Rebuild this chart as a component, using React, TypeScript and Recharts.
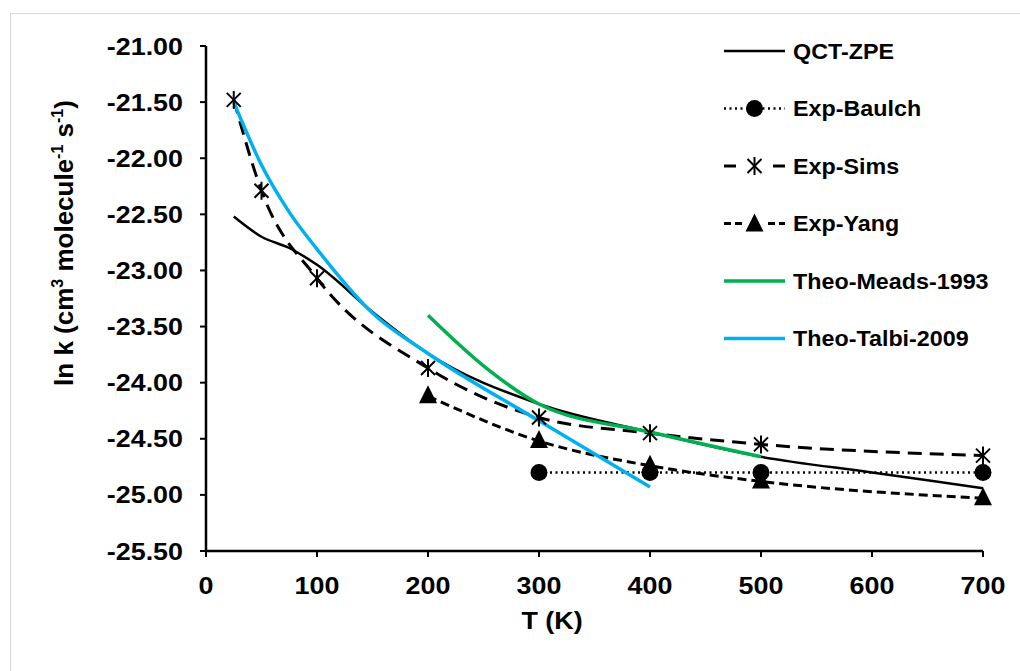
import React from "react";
import { Label, Line, LineChart, XAxis, YAxis } from "recharts";

const xTicks = [0, 100, 200, 300, 400, 500, 600, 700];
const yTicks = [-25.5, -25.0, -24.5, -24.0, -23.5, -23.0, -22.5, -22.0, -21.5, -21.0];

// T (K) and ln k
const qctT = [25, 50, 75, 100, 150, 200, 300, 400, 500, 600, 700];
const qctK = [-22.52, -22.7, -22.8, -22.95, -23.37, -23.74, -24.19, -24.44, -24.66, -24.8, -24.94];

const baulchT = [300, 400, 500, 700];
const baulchK = [-24.8, -24.8, -24.8, -24.8];

const simsT = [25, 50, 100, 200, 300, 400, 500, 700];
const simsK = [-21.48, -22.29, -23.07, -23.87, -24.31, -24.45, -24.55, -24.65];

const yangT = [200, 300, 400, 500, 700];
const yangK = [-24.12, -24.52, -24.74, -24.88, -25.03];

const meadsT = [200, 250, 300, 400, 500];
const meadsK = [-23.4, -23.85, -24.19, -24.44, -24.66];

const talbiT = [25, 50, 75, 100, 150, 200, 300, 400];
const talbiK = [-21.5, -22.06, -22.48, -22.81, -23.38, -23.74, -24.34, -24.93];

const seriesNames = ["QCT-ZPE", "Exp-Baulch", "Exp-Sims", "Exp-Yang", "Theo-Meads-1993", "Theo-Talbi-2009"];

const GREEN = "#00b050";
const BLUE = "#00b0f0";
const FONT = "'Liberation Sans', Arial, Helvetica, sans-serif";
const STRETCH = 1.12; // source figure is a bit wider than tall

const toRows = (ts: number[], ks: number[]) => ts.map((T, i) => ({ T, k: ks[i] }));

function asterisk(cx: number, cy: number, key: string) {
    return (
        <g key={key} stroke="#000" strokeWidth={2}>
            <line x1={cx - 7} y1={cy - 7} x2={cx + 7} y2={cy + 7} />
            <line x1={cx - 7} y1={cy + 7} x2={cx + 7} y2={cy - 7} />
            <line x1={cx} y1={cy - 9} x2={cx} y2={cy + 9} />
        </g>
    );
}

function triangle(cx: number, cy: number, key: string) {
    return <polygon key={key} points={`${cx},${cy - 11} ${cx - 9},${cy + 7} ${cx + 9},${cy + 7}`} fill="#000" />;
}

function circle(cx: number, cy: number, key: string) {
    return <circle key={key} cx={cx} cy={cy} r={8.5} fill="#000" />;
}

const makeDot = (draw: (cx: number, cy: number, key: string) => React.ReactElement, tag: string) => (p: any) => {
    if (p.cx == null || p.cy == null) return <g key={`${tag}-${p.index}`} />;
    return draw(p.cx, p.cy, `${tag}-${p.index}`);
};

const XTick = (p: any) => (
    <text
        transform={`translate(${p.x},${p.y}) scale(${STRETCH},1)`}
        textAnchor="middle"
        dy="0.71em"
        fontSize={24}
        fontWeight={700}
        fontFamily={FONT}
        fill="#000"
    >
        {p.payload.value}
    </text>
);

const YTick = (p: any) => (
    <text
        transform={`translate(${p.x},${p.y}) scale(${STRETCH},1)`}
        textAnchor="end"
        dy="0.355em"
        fontSize={24}
        fontWeight={700}
        fontFamily={FONT}
        fill="#000"
    >
        {Number(p.payload.value).toFixed(2)}
    </text>
);

function LegendOverlay() {
    const x0 = 724;
    const x1 = 785;
    const mid = (x0 + x1) / 2;
    const rowY = (i: number) => 51 + i * 57.5;
    const samples = [
        <line key="l0" x1={x0} x2={x1} y1={rowY(0)} y2={rowY(0)} stroke="#000" strokeWidth={2.5} />,
        <g key="l1">
            <line x1={x0} x2={x1} y1={rowY(1)} y2={rowY(1)} stroke="#000" strokeWidth={2.5} strokeDasharray="2 3.5" />
            {circle(mid, rowY(1), "lc")}
        </g>,
        <g key="l2">
            <line x1={x0} x2={x0 + 12} y1={rowY(2)} y2={rowY(2)} stroke="#000" strokeWidth={3} />
            <line x1={x1 - 12} x2={x1} y1={rowY(2)} y2={rowY(2)} stroke="#000" strokeWidth={3} />
            {asterisk(mid, rowY(2), "ls")}
        </g>,
        <g key="l3">
            <line x1={x0} x2={x1} y1={rowY(3)} y2={rowY(3)} stroke="#000" strokeWidth={3} strokeDasharray="7 4" />
            <rect x={mid - 12} y={rowY(3) - 12} width={24} height={24} fill="#fff" />
            {triangle(mid, rowY(3) + 1, "lt")}
        </g>,
        <line key="l4" x1={x0} x2={x1} y1={rowY(4)} y2={rowY(4)} stroke={GREEN} strokeWidth={3.5} />,
        <line key="l5" x1={x0} x2={x1} y1={rowY(5)} y2={rowY(5)} stroke={BLUE} strokeWidth={3.5} />
    ];
    return (
        <svg width={1020} height={671} style={{ position: "absolute", left: 0, top: 0, pointerEvents: "none" }}>
            {seriesNames.map((name, i) => (
                <g key={name}>
                    {samples[i]}
                    <text
                        transform={`translate(793,${rowY(i)}) scale(1.06,1)`}
                        dy="0.35em"
                        fontSize={22}
                        fontWeight={700}
                        fontFamily={FONT}
                        fill="#000"
                    >
                        {name}
                    </text>
                </g>
            ))}
        </svg>
    );
}

export default function App() {
    return (
        <div style={{ position: "absolute", left: 0, top: 0, width: 1020, height: 671, overflow: "hidden", background: "#fff", fontFamily: FONT }}>
            <div style={{ position: "absolute", left: 10, top: 13, width: 1100, height: 800, border: "1px solid #d9d9d9" }} />
            <div style={{ position: "absolute", left: 0, top: 0 }}>
                <LineChart width={1020} height={671} margin={{ top: 46, right: 37, bottom: 0, left: 0 }}>
                    <XAxis
                        dataKey="T"
                        type="number"
                        domain={[0, 700]}
                        ticks={xTicks}
                        allowDuplicatedCategory={false}
                        height={120}
                        tick={<XTick />}
                        tickSize={6}
                        tickMargin={20}
                        axisLine={{ stroke: "#000", strokeWidth: 2.5 }}
                        tickLine={{ stroke: "#000", strokeWidth: 2 }}
                    >
                        <Label
                            content={() => (
                                <text
                                    transform={`translate(552,629) scale(${STRETCH},1)`}
                                    textAnchor="middle"
                                    fontSize={24}
                                    fontWeight={700}
                                    fontFamily={FONT}
                                    fill="#000"
                                >
                                    T (K)
                                </text>
                            )}
                        />
                    </XAxis>
                    <YAxis
                        type="number"
                        domain={[-25.5, -21]}
                        ticks={yTicks}
                        width={206}
                        tick={<YTick />}
                        tickSize={6}
                        tickMargin={17}
                        axisLine={{ stroke: "#000", strokeWidth: 2.5 }}
                        tickLine={{ stroke: "#000", strokeWidth: 2 }}
                    >
                        <Label
                            content={() => (
                                <text
                                    transform="translate(73,243) rotate(-90)"
                                    textAnchor="middle"
                                    fontSize={26}
                                    fontWeight={700}
                                    fontFamily={FONT}
                                    fill="#000"
                                >
                                    ln k (cm
                                    <tspan dy={-10} fontSize={16}>3</tspan>
                                    <tspan dy={10}> molecule</tspan>
                                    <tspan dy={-10} fontSize={16}>-1</tspan>
                                    <tspan dy={10}> s</tspan>
                                    <tspan dy={-10} fontSize={16}>-1</tspan>
                                    <tspan dy={10}>)</tspan>
                                </text>
                            )}
                        />
                    </YAxis>
                    <Line
                        data={toRows(qctT, qctK)}
                        dataKey="k"
                        type="monotone"
                        stroke="#000"
                        strokeWidth={2.5}
                        dot={false}
                        activeDot={false}
                        isAnimationActive={false}
                    />
                    <Line
                        data={toRows(baulchT, baulchK)}
                        dataKey="k"
                        type="monotone"
                        stroke="#000"
                        strokeWidth={2.5}
                        strokeDasharray="2 3.5"
                        dot={makeDot(circle, "b")}
                        activeDot={false}
                        isAnimationActive={false}
                    />
                    <Line
                        data={toRows(simsT, simsK)}
                        dataKey="k"
                        type="monotone"
                        stroke="#000"
                        strokeWidth={3}
                        strokeDasharray="14 8"
                        dot={makeDot(asterisk, "s")}
                        activeDot={false}
                        isAnimationActive={false}
                    />
                    <Line
                        data={toRows(yangT, yangK)}
                        dataKey="k"
                        type="monotone"
                        stroke="#000"
                        strokeWidth={3}
                        strokeDasharray="9 5"
                        dot={makeDot(triangle, "y")}
                        activeDot={false}
                        isAnimationActive={false}
                    />
                    <Line
                        data={toRows(meadsT, meadsK)}
                        dataKey="k"
                        type="monotone"
                        stroke={GREEN}
                        strokeWidth={3.5}
                        dot={false}
                        activeDot={false}
                        isAnimationActive={false}
                    />
                    <Line
                        data={toRows(talbiT, talbiK)}
                        dataKey="k"
                        type="monotone"
                        stroke={BLUE}
                        strokeWidth={3.5}
                        dot={false}
                        activeDot={false}
                        isAnimationActive={false}
                    />
                </LineChart>
            </div>
            <LegendOverlay />
        </div>
    );
}
